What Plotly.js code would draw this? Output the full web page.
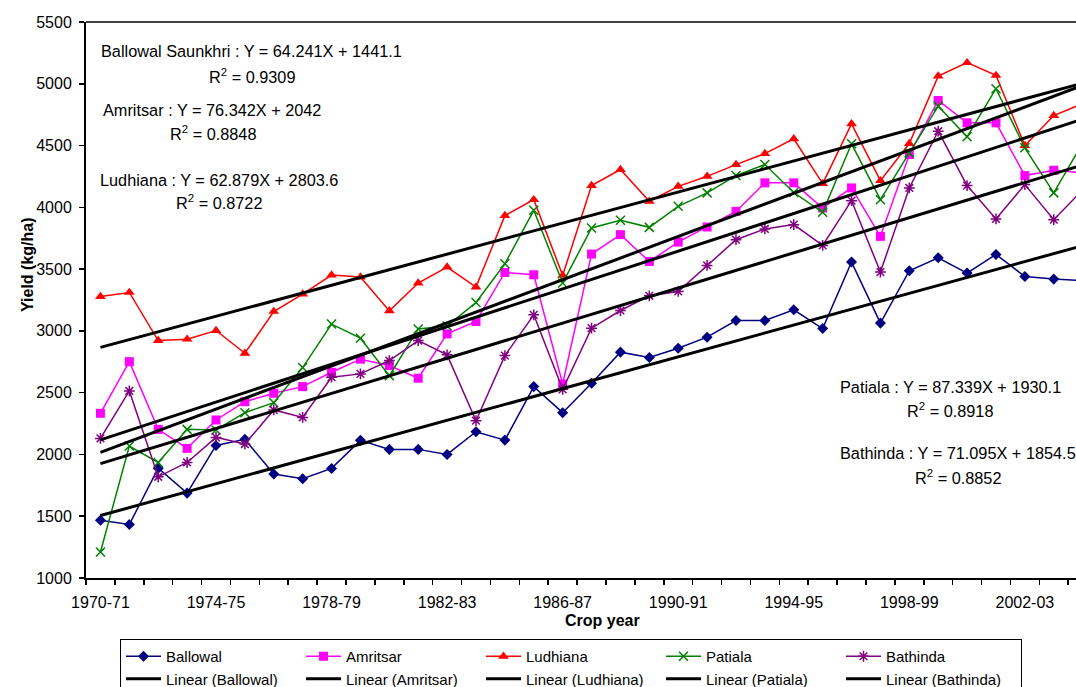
<!DOCTYPE html>
<html><head><meta charset="utf-8">
<script src="https://cdn.plot.ly/plotly-3.0.1.min.js"></script>
<style>html,body{margin:0;padding:0;background:#fff}#chart{width:1076px;height:687px}</style>
</head><body><div id="chart"></div>
<script>
const cropYears = ["1970-71","1971-72","1972-73","1973-74","1974-75","1975-76","1976-77","1977-78","1978-79","1979-80",
  "1980-81","1981-82","1982-83","1983-84","1984-85","1985-86","1986-87","1987-88","1988-89","1989-90",
  "1990-91","1991-92","1992-93","1993-94","1994-95","1995-96","1996-97","1997-98","1998-99","1999-00",
  "2000-01","2001-02","2002-03","2003-04","2004-05"];
const ballowal = [1468,1433,1889,1687,2073,2122,1841,1803,1887,2114,2041,2041,2000,2184,2116,2549,2338,2576,2828,2784,2860,2949,3084,3084,3171,3019,3557,3063,3487,3592,3468,3619,3440,3419,3407];
const amritsar = [2333,2751,2203,2049,2279,2427,2495,2549,2665,2771,2720,2617,2976,3076,3473,3454,2570,3622,3779,3562,3719,3841,3967,4198,4198,3995,4157,3765,4427,4865,4684,4684,4257,4300,4280];
const ludhiana = [3278,3311,2922,2933,3003,2819,3157,3298,3452,3436,3162,3387,3517,3355,3933,4062,3449,4176,4306,4049,4170,4251,4346,4435,4555,4192,4676,4216,4516,5062,5171,5068,4500,4743,4839];
const patiala  = [1211,2068,1935,2203,2198,2338,2419,2703,3055,2941,2638,3016,3040,3230,3543,3976,3387,3833,3895,3838,4008,4117,4257,4346,4120,3960,4514,4062,4441,4819,4571,4960,4482,4117,4520];
const bathinda = [2130,2514,1819,1935,2138,2084,2360,2300,2625,2652,2760,2922,2806,2273,2800,3130,2527,3022,3165,3284,3319,3530,3738,3825,3860,3692,4054,3476,4157,4616,4176,3906,4184,3900,4141];

const seriesNames = ["Ballowal","Amritsar","Ludhiana","Patiala","Bathinda"];
const trendSlope = [64.241, 76.342, 62.879, 87.339, 71.095];
const trendIntercept = [1441.1, 2042, 2803.6, 1930.1, 1854.5];
const equationLabels = [
  ["Ballowal Saunkhri : Y = 64.241X + 1441.1", "R<sup>2</sup> = 0.9309"],
  ["Amritsar : Y = 76.342X + 2042", "R<sup>2</sup> = 0.8848"],
  ["Ludhiana : Y = 62.879X + 2803.6", "R<sup>2</sup> = 0.8722"],
  ["Patiala : Y = 87.339X + 1930.1", "R<sup>2</sup> = 0.8918"],
  ["Bathinda : Y = 71.095X + 1854.5", "R<sup>2</sup> = 0.8852"]
];

const FONT = "Liberation Sans, Arial, sans-serif";
const values = [ballowal, amritsar, ludhiana, patiala, bathinda];
const colors = ["#000080", "#FF00FF", "#FF0000", "#008000", "#800080"];
const symbols = ["diamond", "square", "triangle-up", "x-thin-open", "asterisk-open"];
const sizes = [8.5, 9, 9.5, 9, 9];

const traces = [];
values.forEach((v, k) => {
  const open = symbols[k].endsWith("open");
  traces.push({
    type: "scatter", mode: "lines+markers", name: seriesNames[k],
    x: cropYears, y: v,
    line: {color: colors[k], width: 1.5},
    marker: {symbol: symbols[k], size: sizes[k], color: colors[k],
             line: {color: colors[k], width: open ? 1.5 : 0}},
    cliponaxis: true
  });
});
values.forEach((v, k) => {
  traces.push({
    type: "scatter", mode: "lines", name: "Linear (" + seriesNames[k] + ")",
    x: cropYears, y: cropYears.map((_, i) => trendIntercept[k] + trendSlope[k] * (i + 1)),
    line: {color: "#000000", width: 3}
  });
});

// pixel -> paper helpers for text placement
const L = 86, R = 1076, T = 22, B = 578;
const px = x => (x - L) / (R - L);
const py = y => (B - y) / (B - T);

const eqPos = [
  [[251, 51], [252, 76]],
  [[212, 110], [213, 133]],
  [[219, 180], [219, 202]],
  [[950, 387], [950, 410]],
  [[958, 453], [958, 477]]
];
const annotations = [];
equationLabels.forEach((pair, k) => {
  pair.forEach((txt, j) => {
    annotations.push({
      xref: "paper", yref: "paper", x: px(eqPos[k][j][0]), y: py(eqPos[k][j][1]),
      xanchor: "center", yanchor: "middle", showarrow: false, text: txt,
      font: {family: FONT, size: 16.3, color: "#000"}
    });
  });
});
annotations.push({xref: "paper", yref: "paper", x: px(602), y: py(620), xanchor: "center", yanchor: "middle",
  showarrow: false, text: "<b>Crop year</b>", font: {family: FONT, size: 16, color: "#000"}});
annotations.push({xref: "paper", yref: "paper", x: px(27), y: py(265), xanchor: "center", yanchor: "middle",
  showarrow: false, textangle: -90, text: "<b>Yield (kg/ha)</b>", font: {family: FONT, size: 16, color: "#000"}});

const layout = {
  width: 1076, height: 687,
  margin: {l: L, r: 1076 - R, t: T, b: 687 - B, autoexpand: false},
  paper_bgcolor: "#fff", plot_bgcolor: "#fff",
  font: {family: FONT, size: 16, color: "#000"},
  showlegend: true,
  xaxis: {
    type: "category", categoryorder: "array", categoryarray: cropYears,
    range: [-0.5, 33.77], tickson: "boundaries",
    tickmode: "linear", tick0: 0, dtick: 1, ticklabelstep: 4,
    ticks: "outside", ticklen: 5, tickwidth: 1.5, tickcolor: "#000",
    ticklabelstandoff: 9,
    showline: true, linewidth: 2, linecolor: "#000",
    showgrid: false, zeroline: false, tickangle: 0,
    tickfont: {family: FONT, size: 16, color: "#000"}
  },
  yaxis: {
    range: [1000, 5500], tickmode: "linear", tick0: 1000, dtick: 500,
    ticks: "outside", ticklen: 5, tickwidth: 1.5, tickcolor: "#000",
    ticklabelstandoff: 4,
    showline: true, linewidth: 2, linecolor: "#000",
    showgrid: false, zeroline: false,
    tickfont: {family: FONT, size: 16, color: "#000"}
  },
  legend: {
    orientation: "h", x: px(120), y: py(639), xanchor: "left", yanchor: "top",
    bordercolor: "#000", borderwidth: 1, bgcolor: "#fff",
    font: {family: FONT, size: 15, color: "#000"},
    entrywidth: 130, entrywidthmode: "pixels", itemwidth: 35,
    traceorder: "normal"
  },
  shapes: [{type: "line", xref: "paper", yref: "paper", x0: 0, x1: 1, y0: 1, y1: 1,
            line: {color: "#000", width: 1.5}}],
  annotations: annotations
};

Plotly.newPlot("chart", traces, layout, {displayModeBar: false, staticPlot: true});
</script>
</body></html>
